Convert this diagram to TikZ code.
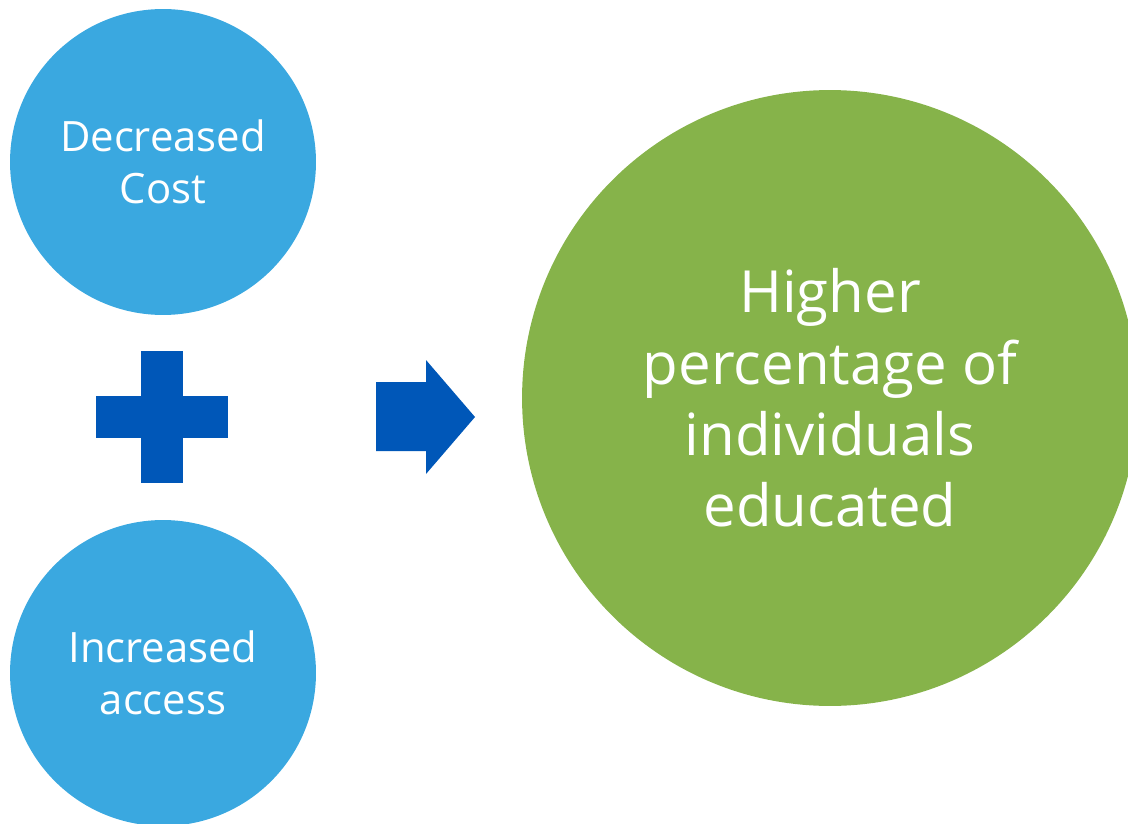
\documentclass[tikz,border=0pt]{standalone}
\usepackage{fontspec}
\setmainfont{Open Sans}
\definecolor{bubbleblue}{HTML}{3AA8E0}
\definecolor{bubblegreen}{HTML}{86B34A}
\definecolor{signblue}{HTML}{0057B8}
\begin{document}
\begin{tikzpicture}[x=0.02cm,y=-0.02cm,
        small/.style={circle,fill=bubbleblue,minimum size=6.12cm,inner sep=0pt,
            text=white,align=center,font=\fontsize{23.8}{29.6}\selectfont},
        big/.style={circle,fill=bubblegreen,minimum size=12.32cm,inner sep=0pt,
            text=white,align=center,font=\fontsize{33.1}{40.6}\selectfont},
        sign/.style={fill=signblue}]
    \useasboundingbox (0,0) rectangle (1128,824);
    \clip (0,0) rectangle (1128,824);
    \node[small] (cost) at (163,162) {Decreased\\Cost};
    \node[small] (access) at (163,673) {Increased\\access};
    \node[big] (higher) at (830,398) {Higher\\percentage of\\individuals\\educated};
    % plus sign
    \fill[sign] (141,351) rectangle (183,483);
    \fill[sign] (96,396) rectangle (228,438);
    % arrow
    \fill[sign] (376,382) -- (426,382) -- (426,360) -- (475,417)
        -- (426,474) -- (426,451) -- (376,451) -- cycle;
\end{tikzpicture}
\end{document}
